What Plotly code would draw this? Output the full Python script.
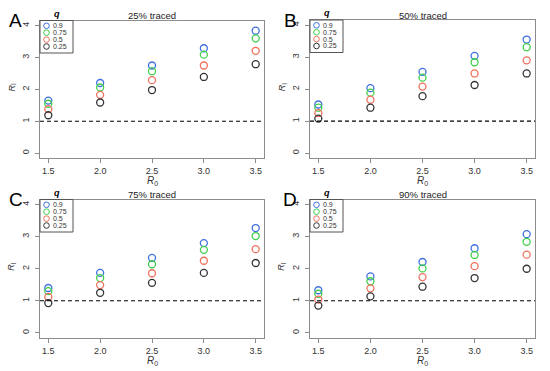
import plotly.graph_objects as go

# ---------------- data ----------------
R0 = [1.5, 2.0, 2.5, 3.0, 3.5]
q_labels = ["0.9", "0.75", "0.5", "0.25"]
panel_titles = ["25% traced", "50% traced", "75% traced", "90% traced"]
panel_letters = ["A", "B", "C", "D"]

# Values per panel, per q (0.9, 0.75, 0.5, 0.25)
A_q090 = [1.65, 2.20, 2.75, 3.29, 3.84]
A_q075 = [1.55, 2.06, 2.57, 3.09, 3.60]
A_q050 = [1.38, 1.83, 2.29, 2.75, 3.21]
A_q025 = [1.19, 1.59, 1.98, 2.39, 2.79]

B_q090 = [1.52, 2.03, 2.54, 3.04, 3.55]
B_q075 = [1.42, 1.89, 2.36, 2.84, 3.31]
B_q050 = [1.25, 1.67, 2.08, 2.49, 2.90]
B_q025 = [1.08, 1.42, 1.78, 2.13, 2.49]

C_q090 = [1.40, 1.87, 2.34, 2.80, 3.27]
C_q075 = [1.30, 1.71, 2.14, 2.59, 3.02]
C_q050 = [1.12, 1.49, 1.86, 2.25, 2.61]
C_q025 = [0.93, 1.25, 1.56, 1.87, 2.18]

D_q090 = [1.33, 1.76, 2.21, 2.64, 3.08]
D_q075 = [1.22, 1.61, 2.01, 2.43, 2.84]
D_q050 = [1.04, 1.39, 1.74, 2.08, 2.44]
D_q025 = [0.85, 1.14, 1.44, 1.71, 2.00]

panels = [
    [A_q090, A_q075, A_q050, A_q025],
    [B_q090, B_q075, B_q050, B_q025],
    [C_q090, C_q075, C_q050, C_q025],
    [D_q090, D_q075, D_q050, D_q025],
]

x_ticks = [1.5, 2.0, 2.5, 3.0, 3.5]
x_ticklabels = ["1.5", "2.0", "2.5", "3.0", "3.5"]
y_ticks = [0, 1, 2, 3, 4]
threshold = 1

# ---------------- style ----------------
W, H = 550, 371
colors = ["#3f6fe0", "#3fcf4a", "#f0705c", "#333333"]
FONT = "Arial, Liberation Sans, sans-serif"
box_col = "#8c8c8c"

# plot areas in pixels: (left, right, top, bottom)
areas = [
    (40, 264, 20.5, 158.3),
    (310, 535, 20.0, 158.3),
    (40, 264, 199.5, 338.0),
    (310, 535, 199.5, 338.0),
]
letter_x = [7, 282, 7, 281]

def px(xp):
    return xp / W

def py(yp):
    return 1 - yp / H

fig = go.Figure()
shapes = []
annotations = []

for i, vals in enumerate(panels):
    l, r, t, b = areas[i]
    n = "" if i == 0 else str(i + 1)
    xa = "xaxis" + n
    ya = "yaxis" + n
    xr = "x" + n
    yr = "y" + n
    for k, series in enumerate(vals):
        fig.add_trace(go.Scatter(
            x=R0, y=series, xaxis=xr, yaxis=yr, mode="markers",
            marker=dict(symbol="circle-open", size=7, color=colors[k],
                        line=dict(width=1.3, color=colors[k])),
            showlegend=False, hoverinfo="x+y"))
    axis_common = dict(showgrid=False, zeroline=False, showline=True,
                       linecolor=box_col, linewidth=1, mirror=True,
                       ticks="outside", ticklen=4, tickcolor=box_col,
                       tickfont=dict(family=FONT, size=9, color="#333333"))
    fig.update_layout(**{
        xa: dict(domain=[px(l), px(r)], anchor=yr, range=[1.42, 3.58],
                 tickvals=x_ticks, ticktext=x_ticklabels, ticklabelstandoff=0,
                 **axis_common),
        ya: dict(domain=[py(b), py(t)], anchor=xr, range=[-0.16, 4.16],
                 tickvals=y_ticks, tickangle=-90, ticklabelstandoff=2,
                 **axis_common),
    })
    # dashed threshold
    shapes.append(dict(type="line", xref=xr + " domain", x0=0, x1=1,
                       yref=yr, y0=threshold, y1=threshold,
                       line=dict(color="black", width=1.1, dash="4px,3px")))
    # title
    annotations.append(dict(text=panel_titles[i], xref="paper", yref="paper",
                            x=px((l + r) / 2), y=py(t - 4.5), xanchor="center",
                            yanchor="middle", showarrow=False,
                            font=dict(family=FONT, size=9.5, color="#222222")))
    # panel letter
    annotations.append(dict(text=panel_letters[i], xref="paper", yref="paper",
                            x=px(letter_x[i]), y=py(t), xanchor="left",
                            yanchor="middle", showarrow=False,
                            font=dict(family=FONT, size=19, color="black")))
    # axis titles
    annotations.append(dict(text="<i>R</i><sub>0</sub>", xref="paper", yref="paper",
                            x=px((l + r) / 2), y=py(b + 23), xanchor="center",
                            yanchor="middle", showarrow=False,
                            font=dict(family=FONT, size=10, color="#333333")))
    annotations.append(dict(text="<i>R</i><sub>I</sub>", xref="paper", yref="paper",
                            x=px(l - 28), y=py((t + b) / 2 - 2), xanchor="center",
                            yanchor="middle", textangle=-90, showarrow=False,
                            font=dict(family=FONT, size=9, color="#333333")))
    # legend box
    shapes.append(dict(type="rect", xref="paper", yref="paper",
                       x0=px(l), x1=px(l + 33), y0=py(t + 32.5), y1=py(t),
                       line=dict(color="#555555", width=1)))
    annotations.append(dict(text="<b><i>q</i></b>", xref="paper", yref="paper",
                            x=px(l + 17), y=py(t - 7), xanchor="center",
                            yanchor="middle", showarrow=False,
                            font=dict(family=FONT, size=9, color="black")))
    for k, lab in enumerate(q_labels):
        yy = t + 5.3 + 6.9 * k
        shapes.append(dict(type="circle", xref="paper", yref="paper",
                           xsizemode="pixel", ysizemode="pixel",
                           xanchor=px(l + 6.5), yanchor=py(yy),
                           x0=-2.8, x1=2.8, y0=-2.8, y1=2.8,
                           line=dict(color=colors[k], width=1)))
        annotations.append(dict(text=lab, xref="paper", yref="paper",
                                x=px(l + 11.5), y=py(yy), xanchor="left",
                                yanchor="middle", showarrow=False, borderpad=0,
                                font=dict(family=FONT, size=7, color="#333333")))

fig.update_layout(width=W, height=H, autosize=False,
                  margin=dict(l=0, r=0, t=0, b=0),
                  paper_bgcolor="white", plot_bgcolor="white",
                  shapes=shapes, annotations=annotations)

fig.write_html("out.html", config={"displayModeBar": False},
               post_script="document.body.style.margin='0';document.body.style.padding='0';")
